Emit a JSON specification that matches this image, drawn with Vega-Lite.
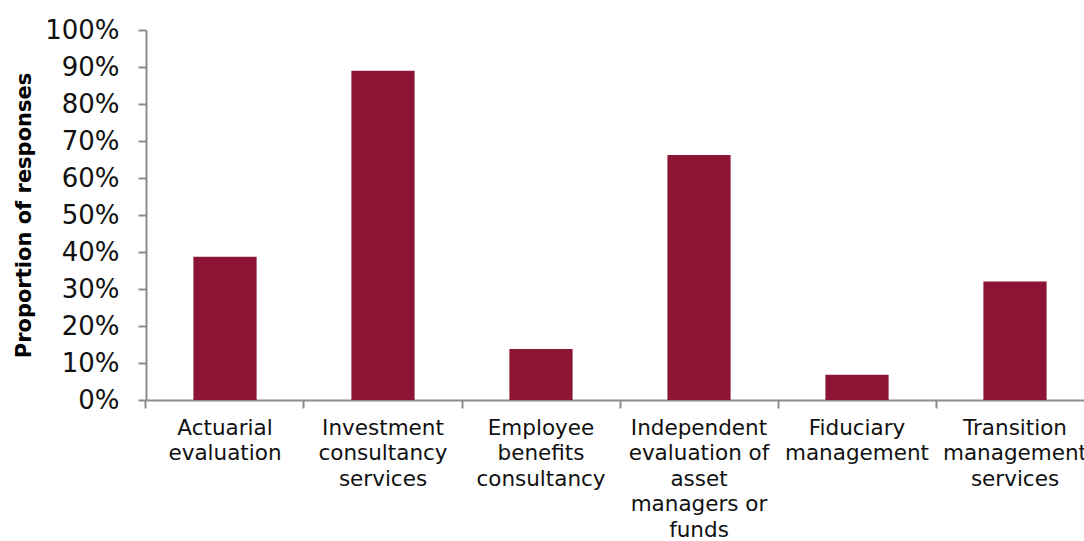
{
  "$schema": "https://vega.github.io/schema/vega-lite/v6.json",
  "width": 938,
  "height": 370,
  "autosize": "none",
  "padding": {"left": 146, "top": 30, "right": 0, "bottom": 141},
  "background": "white",
  "config": {
    "view": {"stroke": null},
    "font": "DejaVu Sans",
    "axisY": {
      "title": "Proportion of responses",
      "titleFontSize": 21,
      "titleFontWeight": "bold",
      "titleColor": "#000000",
      "titlePadding": 10,
      "format": ".0%",
      "values": [0, 0.1, 0.2, 0.3, 0.4, 0.5, 0.6, 0.7, 0.8, 0.9, 1],
      "labelOverlap": false,
      "labelFontSize": 26,
      "labelColor": "#111111",
      "labelPadding": 19,
      "tickSize": 8,
      "tickColor": "#8c8c8c",
      "tickWidth": 2,
      "domainColor": "#8c8c8c",
      "domainWidth": 2,
      "grid": false
    }
  },
  "data": {
    "values": [
      {"service": "Actuarial|evaluation", "share": 0.387},
      {"service": "Investment|consultancy|services", "share": 0.89},
      {"service": "Employee|benefits|consultancy", "share": 0.138},
      {"service": "Independent|evaluation of|asset|managers or|funds", "share": 0.662},
      {"service": "Fiduciary|management", "share": 0.068},
      {"service": "Transition|management|services", "share": 0.32}
    ]
  },
  "layer": [
    {
      "mark": {"type": "bar", "color": "#8C1535"},
      "encoding": {
        "x": {
          "field": "service",
          "type": "nominal",
          "sort": null,
          "scale": {"range": [0, 948], "paddingInner": 0.6, "paddingOuter": 0.3},
          "axis": {
            "title": null,
            "orient": "bottom",
            "labelAngle": 0,
            "labelExpr": "split(datum.label, '|')",
            "labelFontSize": 21.5,
            "labelLineHeight": 25.5,
            "labelColor": "#111111",
            "labelPadding": 17,
            "labelLimit": 300,
            "labelOverlap": false,
            "ticks": false,
            "domain": true,
            "domainColor": "#8c8c8c",
            "domainWidth": 2
          }
        },
        "y": {
          "field": "share",
          "type": "quantitative",
          "scale": {"domain": [0, 1]},
          "axis": {"title": "Proportion of responses", "values": [0, 0.1, 0.2, 0.3, 0.4, 0.5, 0.6, 0.7, 0.8, 0.9, 1]}
        }
      }
    },
    {
      "mark": {"type": "bar", "opacity": 0},
      "encoding": {
        "x": {
          "field": "service",
          "type": "nominal",
          "sort": null,
          "axis": {
            "title": null,
            "orient": "bottom",
            "labels": false,
            "domain": false,
            "ticks": true,
            "bandPosition": -0.75,
            "tickSize": 8,
            "tickColor": "#8c8c8c",
            "tickWidth": 2
          }
        },
        "y": {
          "field": "share",
          "type": "quantitative",
          "axis": {"title": "Proportion of responses", "values": [0, 0.1, 0.2, 0.3, 0.4, 0.5, 0.6, 0.7, 0.8, 0.9, 1]}
        }
      }
    }
  ],
  "resolve": {"axis": {"x": "independent"}}
}
